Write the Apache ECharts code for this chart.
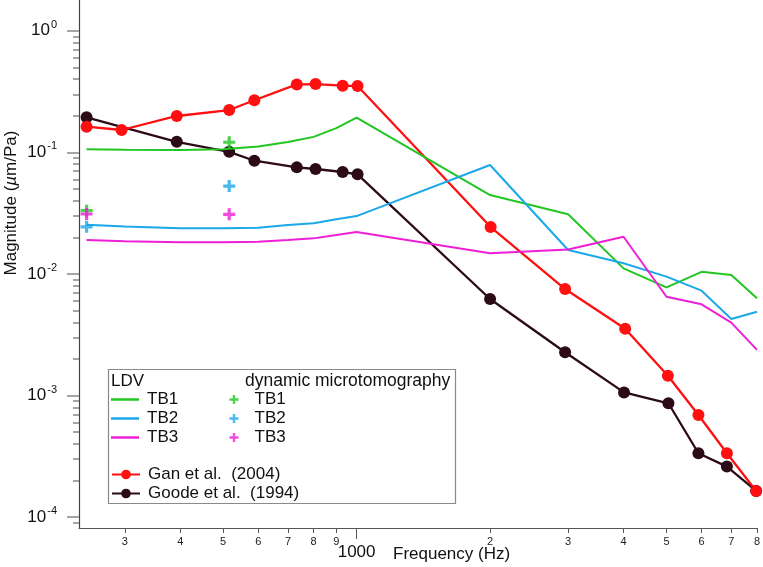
<!DOCTYPE html>
<html>
<head>
<meta charset="utf-8">
<script src="https://cdn.jsdelivr.net/npm/echarts@6/dist/echarts.min.js"></script>
<style>
  html, body { margin: 0; padding: 0; background: #fff; }
  #main { width: 763px; height: 567px; }
</style>
</head>
<body>
<div id="main"></div>
<script>
// frequencies (Hz) and magnitudes (um/Pa)
const ganFreq = [246, 295, 393, 516, 588, 733, 808, 930, 1005, 2006, 2953, 4034, 5036, 5902, 6842, 7967];
const ganMag = [0.1625, 0.1526, 0.199, 0.2228, 0.268, 0.362, 0.364, 0.353, 0.351, 0.0243, 0.00751, 0.00354, 0.001455, 0.000691, 0.000335, 0.000164];

const goodeFreq = [246, 393, 516, 588, 733, 808, 930, 1005, 2000, 2953, 4010, 5050, 5902, 6842, 7967];
const goodeMag = [0.194, 0.122, 0.101, 0.0853, 0.0752, 0.0729, 0.0689, 0.0659, 0.00622, 0.00227, 0.00106, 0.000863, 0.000335, 0.00026, 0.000164];

const ldvFreq = [246, 300, 400, 500, 600, 700, 800, 900, 1000, 2000, 3000, 4000, 5000, 6000, 7000, 8000];
const ldvTB1 = [0.106, 0.105, 0.1045, 0.106, 0.1116, 0.1216, 0.134, 0.158, 0.193, 0.0445, 0.0309, 0.0111, 0.00776, 0.0104, 0.0098, 0.0063];
const ldvTB2 = [0.0254, 0.0245, 0.0237, 0.0237, 0.024, 0.0252, 0.0261, 0.0281, 0.0299, 0.0787, 0.01573, 0.01222, 0.0095, 0.00728, 0.00426, 0.00489];
const ldvTB3 = [0.019, 0.0186, 0.0182, 0.0182, 0.0184, 0.019, 0.0196, 0.0209, 0.0221, 0.01476, 0.0159, 0.0202, 0.00649, 0.00562, 0.00397, 0.00237];

// dynamic microtomography
const microFreq = [246, 516];
const microTB1 = [0.0331, 0.121];
const microTB2 = [0.0244, 0.0528];
const microTB3 = [0.0311, 0.0309];

// axis ticks
const xMinorTicks = [300, 400, 500, 600, 700, 800, 900, 2000, 3000, 4000, 5000, 6000, 7000, 8000];
const xMajorTicks = [1000];
const yDecades = [1e-4, 1e-3, 1e-2, 1e-1, 1];
const yMantissas = [2, 3, 4, 5, 6, 7, 8, 9];

const FONT = '"Liberation Sans", Arial, Helvetica, sans-serif';
const GREEN = '#22c522', BLUE = '#1ba8e8', MAGENTA = '#ee1fd6', RED = '#ff0f0f', DARK = '#2c0a17';
const PLUS = 'path://M4.4,0H7.6V4.4H12V7.6H7.6V12H4.4V7.6H0V4.4H4.4Z';

function pairs(xs, ys) {
  return xs.map((x, i) => [x, ys[i]]);
}

const yMinorTicks = [];
yDecades.forEach(d => {
  yMantissas.forEach(m => yMinorTicks.push(m * d / 10));
});

const chart = echarts.init(document.getElementById('main'), null, { renderer: 'canvas' });

const X_MIN = 236.5, X_MAX = 8000, Y_MIN = 8.13e-5, Y_MAX = 1.79;

function ldvLine(name, color, ys) {
  return {
    name: name, type: 'line', data: pairs(ldvFreq, ys),
    showSymbol: false, symbol: 'none', color: color,
    lineStyle: { color: color, width: 2 }, z: 3
  };
}
function refLine(name, color, xs, ys) {
  return {
    name: name, type: 'line', data: pairs(xs, ys),
    symbol: 'circle', symbolSize: 12, color: color,
    itemStyle: { color: color }, lineStyle: { color: color, width: 2.3 }, z: 2
  };
}
function microPts(name, color, ys) {
  return {
    name: name, type: 'scatter', data: pairs(microFreq, ys),
    symbol: PLUS, symbolSize: 12, color: color, itemStyle: { color: color }, z: 4
  };
}

const option = {
  animation: false,
  backgroundColor: '#fff',
  textStyle: { fontFamily: FONT },
  grid: { left: 79, right: 6, top: 0, bottom: 39, containLabel: false, outerBoundsMode: 'none' },
  xAxis: [
    {
      type: 'log', min: X_MIN, max: X_MAX, position: 'bottom',
      axisLine: { show: true, onZero: false, lineStyle: { color: '#555', width: 1.2 } },
      axisTick: { show: true, length: 5, customValues: xMinorTicks, lineStyle: { color: '#555' } },
      axisLabel: {
        show: true, customValues: xMinorTicks, margin: 8, fontSize: 11, color: '#222', fontFamily: FONT,
        formatter: v => String(Math.round(v < 1000 ? v / 100 : v / 1000))
      },
      minorTick: { show: false }, splitLine: { show: false }
    },
    {
      type: 'log', min: X_MIN, max: X_MAX, position: 'bottom',
      axisLine: { show: false, onZero: false },
      axisTick: { show: true, length: 11, customValues: xMajorTicks, lineStyle: { color: '#555' } },
      axisLabel: {
        show: true, customValues: xMajorTicks, margin: 16, fontSize: 17, color: '#111', fontFamily: FONT,
        formatter: v => String(Math.round(v))
      },
      splitLine: { show: false }
    }
  ],
  yAxis: [
    {
      type: 'log', min: Y_MIN, max: Y_MAX, position: 'left',
      axisLine: { show: true, onZero: false, lineStyle: { color: '#444', width: 1.2 } },
      axisTick: { show: true, length: 12, customValues: yDecades, lineStyle: { color: '#888', width: 1.5 } },
      axisLabel: {
        show: true, customValues: yDecades, margin: 22, color: '#111', fontFamily: FONT,
        formatter: v => '{b|10}{s|' + Math.round(Math.log10(v)) + '}',
        rich: {
          b: { fontSize: 17, fontFamily: FONT, color: '#111' },
          s: { fontSize: 11, fontFamily: FONT, color: '#111', padding: [0, 0, 12, 1] }
        }
      },
      splitLine: { show: false }
    },
    {
      type: 'log', min: Y_MIN, max: Y_MAX, position: 'left',
      axisLine: { show: false, onZero: false },
      axisTick: { show: true, length: 6, customValues: yMinorTicks, lineStyle: { color: '#888', width: 1.5 } },
      axisLabel: { show: false },
      splitLine: { show: false }
    }
  ],
  legend: [
    {
      data: ['LDV TB1', 'LDV TB2', 'LDV TB3'], orient: 'vertical', left: 111, top: 390,
      icon: 'rect', itemWidth: 28, itemHeight: 2.5, itemGap: 0, padding: 0, selectedMode: false,
      formatter: n => n.replace('LDV ', ''),
      textStyle: { fontSize: 17, lineHeight: 19, color: '#111', fontFamily: FONT, padding: [0, 0, 0, 3] }
    },
    {
      data: ['uCT TB1', 'uCT TB2', 'uCT TB3'], orient: 'vertical', left: 229.5, top: 390,
      icon: PLUS, itemWidth: 9, itemHeight: 9, itemGap: 0, padding: 0, selectedMode: false,
      formatter: n => n.replace('uCT ', ''),
      textStyle: { fontSize: 17, lineHeight: 19, color: '#111', fontFamily: FONT, padding: [0, 0, 0, 11] }
    },
    {
      data: ['Gan et al.  (2004)', 'Goode et al.  (1994)'], orient: 'vertical', left: 111, top: 465,
      itemWidth: 28, itemHeight: 12, itemGap: 0, padding: 0, selectedMode: false,
      textStyle: { fontSize: 17, lineHeight: 19, color: '#111', fontFamily: FONT, padding: [0, 0, 0, 3] }
    }
  ],
  graphic: [
    {
      type: 'rect', shape: { x: 108.5, y: 369.5, width: 347, height: 134 },
      style: { fill: 'none', stroke: '#8a8a8a', lineWidth: 1.2 }, z: 1
    },
    {
      type: 'text', x: 111, y: 381,
      style: { text: 'LDV', font: '17px ' + FONT, fill: '#111', verticalAlign: 'middle' }
    },
    {
      type: 'text', x: 245, y: 381,
      style: { text: 'dynamic microtomography', font: '17.5px ' + FONT, fill: '#111', verticalAlign: 'middle' }
    },
    {
      type: 'text', x: 393, y: 554,
      style: { text: 'Frequency (Hz)', font: '17px ' + FONT, fill: '#111', verticalAlign: 'middle' }
    },
    {
      type: 'text', x: 11, y: 203, rotation: Math.PI / 2,
      style: {
        text: '{n|Magnitude (}{i|µ}{n|m/Pa)}', align: 'center', verticalAlign: 'middle',
        rich: {
          n: { fontSize: 17, fontFamily: FONT, fill: '#111' },
          i: { fontSize: 17, fontFamily: FONT, fontStyle: 'italic', fill: '#111' }
        }
      }
    }
  ],
  series: [
    refLine('Goode et al.  (1994)', DARK, goodeFreq, goodeMag),
    refLine('Gan et al.  (2004)', RED, ganFreq, ganMag),
    ldvLine('LDV TB1', GREEN, ldvTB1),
    ldvLine('LDV TB2', BLUE, ldvTB2),
    ldvLine('LDV TB3', MAGENTA, ldvTB3),
    microPts('uCT TB1', GREEN, microTB1),
    microPts('uCT TB2', BLUE, microTB2),
    microPts('uCT TB3', MAGENTA, microTB3)
  ]
};

chart.setOption(option);
</script>
</body>
</html>
